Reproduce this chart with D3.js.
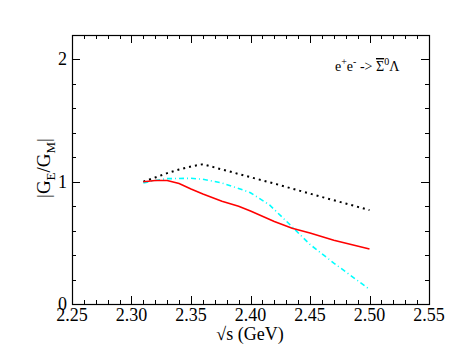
<!DOCTYPE html>
<html><head><meta charset="utf-8">
<script src="https://cdn.jsdelivr.net/npm/d3@7"></script>
<style>body{margin:0;background:#fff}svg{display:block}</style>
</head><body>
<svg id="c" width="463" height="358"></svg>
<script>
const xTicks = [2.25, 2.30, 2.35, 2.40, 2.45, 2.50, 2.55];
const yTicks = [0, 1, 2];
const dottedX = [2.31, 2.32, 2.33, 2.34, 2.35, 2.36, 2.38, 2.40, 2.42, 2.44, 2.46, 2.48, 2.50];
const dottedY = [1.0, 1.035, 1.07, 1.10, 1.125, 1.143, 1.09, 1.037, 0.985, 0.93, 0.875, 0.822, 0.768];
const redX = [2.31, 2.32, 2.33, 2.34, 2.35, 2.36, 2.376, 2.39, 2.40, 2.42, 2.435, 2.45, 2.47, 2.50];
const redY = [1.0, 1.01, 1.01, 0.985, 0.94, 0.90, 0.84, 0.80, 0.76, 0.675, 0.62, 0.58, 0.522, 0.45];
const cyanX = [2.31, 2.32, 2.33, 2.35, 2.36, 2.376, 2.39, 2.40, 2.416, 2.433, 2.45, 2.47, 2.50];
const cyanY = [0.99, 1.01, 1.025, 1.028, 1.02, 0.99, 0.945, 0.91, 0.81, 0.65, 0.487, 0.335, 0.12];

const FONT = "Liberation Serif";
const svg = d3.select("#c");
const L = 72, R = 429, T = 35, B = 304;
const x = d3.scaleLinear().domain([2.25, 2.55]).range([L, R]);
const y = d3.scaleLinear().domain([0, 2.2]).range([B, T]);

const g = svg.append("g");
const xMinor = d3.range(2.25, 2.5501, 0.01);
const yMinor = d3.range(0, 2.2001, 0.2);
const tick = (x1,y1,x2,y2)=>g.append("line").attr("x1",x1).attr("y1",y1).attr("x2",x2).attr("y2",y2).attr("stroke","#000").attr("stroke-width",1);
xMinor.forEach(v=>{
  const major = xTicks.some(t=>Math.abs(t-v)<1e-6);
  const len = major?8:4;
  const px = Math.round(x(v))+0.5;
  tick(px,B,px,B-len); tick(px,T,px,T+len);
});
yMinor.forEach(v=>{
  const major = yTicks.some(t=>Math.abs(t-v)<1e-6);
  const len = major?8:4;
  const py = Math.round(y(v))+0.5;
  tick(L,py,L+len,py); tick(R,py,R-len,py);
});
g.append("rect").attr("x",L+0.5).attr("y",T+0.5).attr("width",R-L).attr("height",B-T)
  .attr("fill","none").attr("stroke","#000").attr("stroke-width",1.2);

const txt = (sel)=>sel.append("text").attr("font-family",FONT);

xTicks.forEach(v=>{
  txt(svg).attr("x",x(v)).attr("y",321).attr("text-anchor","middle")
    .attr("font-size",18).text(v.toFixed(2));
});
yTicks.forEach(v=>{
  txt(svg).attr("x",67).attr("y",y(v)+6).attr("text-anchor","end")
    .attr("font-size",18).text(v);
});

txt(svg).attr("x",250).attr("y",340).attr("text-anchor","middle").attr("font-size",18)
  .text("\u221As (GeV)");
const yl = txt(svg).attr("transform","translate(50,168) rotate(-90)").attr("text-anchor","middle").attr("font-size",19);
yl.append("tspan").text("|G");
yl.append("tspan").attr("font-size",13).attr("dy",5).text("E");
yl.append("tspan").attr("dy",-5).text("/G");
yl.append("tspan").attr("font-size",13).attr("dy",5).text("M");
yl.append("tspan").attr("dy",-5).text("|");

const an = txt(svg).attr("x",335).attr("y",71).attr("font-size",14);
an.append("tspan").text("e");
an.append("tspan").attr("font-size",10).attr("dy",-6).text("+");
an.append("tspan").attr("dy",6).text("e");
an.append("tspan").attr("font-size",10).attr("dy",-6).text("-");
an.append("tspan").attr("dy",6).text(" -> ");
an.append("tspan").attr("text-decoration","overline").text("\u03A3");
an.append("tspan").attr("font-size",10).attr("dy",-6).text("0");
an.append("tspan").attr("dy",6).text("\u039B");

const line = d3.line().x(d=>x(d[0])).y(d=>y(d[1]));
const pg = svg.append("g");
pg.append("path").datum(d3.zip(dottedX,dottedY)).attr("d",line).attr("fill","none")
  .attr("stroke","#000").attr("stroke-width",2).attr("stroke-dasharray","2,4");
pg.append("path").datum(d3.zip(cyanX,cyanY)).attr("d",line).attr("fill","none")
  .attr("stroke","#00ffff").attr("stroke-width",1.6).attr("stroke-dasharray","5,3,1,3");
pg.append("path").datum(d3.zip(redX,redY)).attr("d",line).attr("fill","none")
  .attr("stroke","#ff0000").attr("stroke-width",1.6);
</script>
</body></html>
